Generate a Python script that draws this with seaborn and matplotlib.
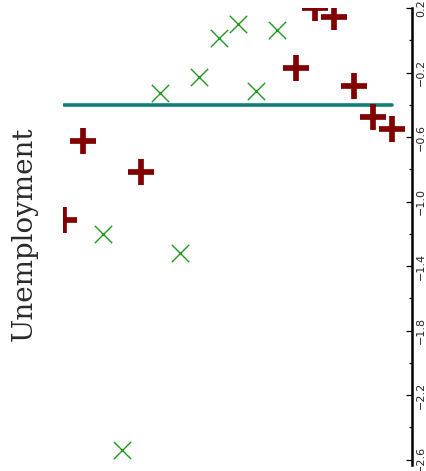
import numpy as np
import pandas as pd
import matplotlib
matplotlib.use("Agg")
import matplotlib.pyplot as plt
import seaborn as sns

# Series A (red pluses)
red_x = [0.03, 0.56, 2.23, 6.68, 7.22, 7.77, 8.34, 8.88, 9.43]
red_y = [-1.115, -0.625, -0.82, -0.172, 0.197, 0.144, -0.281, -0.476, -0.55]

# Series B (green crosses)
green_x = [2.78, 3.90, 4.46, 5.01, 6.12, 5.53, 1.14, 3.35, 1.68]
green_y = [-0.329, -0.23, 0.016, 0.099, 0.064, -0.313, -1.202, -1.321, -2.541]

# Reference level drawn across series A's x range
ref_level = -0.4

y_major = [0.2, -0.2, -0.6, -1.0, -1.4, -1.8, -2.2, -2.6]
y_minor = [0.0, -0.4, -0.8, -1.2, -1.6, -2.0, -2.4]

sns.set_theme(style="white")
plt.rcParams["font.family"] = ["DejaVu Sans"]

W, H = 427, 471
fig = plt.figure(figsize=(W / 100, H / 100), dpi=100)
ax = fig.add_axes([63 / W, 6 / H, (412 - 63) / W, (465 - 8) / H])

red_df = pd.DataFrame({"x": red_x, "y": red_y})
green_df = pd.DataFrame({"x": green_x, "y": green_y})
ref_df = pd.DataFrame({"x": [min(red_x), max(red_x)], "y": [ref_level, ref_level]})

sns.lineplot(data=ref_df, x="x", y="y", ax=ax, color="#0e7f7c", linewidth=2.6,
             solid_capstyle="round", zorder=2)
sns.scatterplot(data=green_df, x="x", y="y", ax=ax, marker="x", s=12.5 ** 2,
                color="#1f9a1f", linewidth=1.0, zorder=3)
sns.scatterplot(data=red_df, x="x", y="y", ax=ax, marker="+", s=18.5 ** 2,
                color="#800000", linewidth=4.1, zorder=4)

ax.set_xlim(0, 10)
ax.set_ylim(-2.634, 0.2)

for side in ["left", "top", "bottom"]:
    ax.spines[side].set_visible(False)
ax.spines["right"].set_visible(True)
ax.spines["right"].set_linewidth(1.8)
ax.spines["right"].set_color("black")

ax.set_xticks([])
ax.set_xlabel("")
ax.set_ylabel("")
ax.yaxis.tick_right()
ax.set_yticks(y_major)
ax.set_yticks(y_minor, minor=True)
ax.set_yticklabels([f"{v:.1f}".replace("-", "\u2212") for v in y_major])
ax.tick_params(axis="y", which="major", direction="in", length=4.5, width=0.9,
               color="black", pad=2.8, labelsize=8.0, labelrotation=90,
               left=False, right=True, labelleft=False, labelright=True)
ax.tick_params(axis="y", which="minor", direction="in", length=2.5, width=0.9,
               color="black", left=False, right=True)
for lbl in ax.get_yticklabels():
    lbl.set_verticalalignment("center")

fig.text(24.7 / W, 1 - 234 / H, "Unemployment", rotation=90, ha="center",
         va="center", fontsize=20, family=["DejaVu Serif"], color="#2a2a2a")

fig.savefig("out.png", dpi=100)
